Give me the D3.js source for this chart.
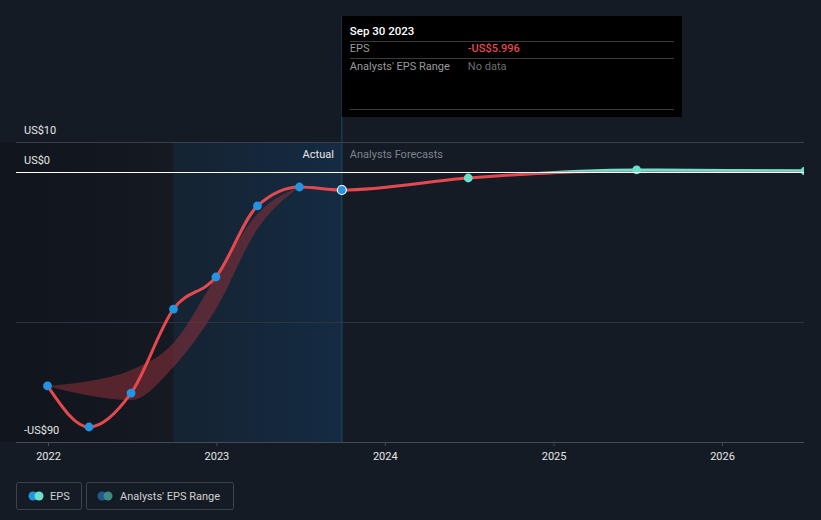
<!DOCTYPE html>
<html>
<head>
<meta charset="utf-8">
<script src="https://cdn.jsdelivr.net/npm/d3@7"></script>
<style>
  html, body { margin: 0; padding: 0; background: #151b25; }
  svg { display: block; font-family: Roboto, "Open Sans", sans-serif; }
</style>
</head>
<body>
<svg id="chart" width="821" height="520"></svg>
<script>
// ---- data ----
const actualDates = ["2021-12-31","2022-03-31","2022-06-30","2022-09-30","2022-12-31","2023-03-31","2023-06-30","2023-09-30"];
const actualEPS   = [-71.3, -85, -73.7, -45.7, -35, -11.3, -5, -5.996];
const forecastDates = ["2024-06-30","2025-06-30","2026-06-30"];
const forecastEPS   = [-2, 0.7, 0.35];
const pastRangeDates = ["2021-12-31","2022-03-31","2022-06-30","2022-09-30","2022-12-31","2023-03-31","2023-06-30"];
const pastRangeHigh  = [-71.3, -69.7, -66, -57, -35, -14, -5];
const pastRangeLow   = [-71.3, -74.5, -76, -65, -45.7, -19, -5];
const fcRangeDates = ["2024-06-30","2025-06-30","2026-06-30"];
const fcRangeHigh  = [-2, 1.0, 0.9];
const fcRangeLow   = [-2, -0.2, -0.3];
const yTickValues = [10, 0, -90];
const yTickLabels = ["US$10", "US$0", "-US$90"];
const xTickYears = [2022, 2023, 2024, 2025, 2026];
const tooltipDate = "Sep 30 2023";
const tooltipEPS = "-US$5.996";
const tooltipRange = "No data";

(function () {
const parse = d3.timeParse("%Y-%m-%d");
const svg = d3.select("#chart");
const W = 821, H = 520;
const pLeft = 16, pRight = 804, pTop = 142, pBottom = 442;

const x = d3.scaleTime()
  .domain([new Date(2022,0,1), new Date(2026,0,1)])
  .range([48, 722]);
const y = d3.scaleLinear().domain([-90, 10]).range([pBottom, pTop]);

const defs = svg.append("defs");
const gDark = defs.append("linearGradient").attr("id","gDark").attr("x1","0").attr("x2","1");
gDark.append("stop").attr("offset","0").attr("stop-color","#10141b").attr("stop-opacity",0.9);
gDark.append("stop").attr("offset","1").attr("stop-color","#141922").attr("stop-opacity",0.9);
const gBlue = defs.append("linearGradient").attr("id","gBlue").attr("x1","0").attr("x2","1");
gBlue.append("stop").attr("offset","0").attr("stop-color","#152332");
gBlue.append("stop").attr("offset","1").attr("stop-color","#142b42");

const y0 = y(0);
const gLine = defs.append("linearGradient").attr("id","gLine")
  .attr("gradientUnits","userSpaceOnUse").attr("x1",0).attr("x2",0).attr("y1",pTop).attr("y2",pBottom);
const zf = (y0 - pTop) / (pBottom - pTop);
gLine.append("stop").attr("offset",0).attr("stop-color","#6ce0cb");
gLine.append("stop").attr("offset",zf - 0.005).attr("stop-color","#6ce0cb");
gLine.append("stop").attr("offset",zf + 0.005).attr("stop-color","#e5484d");
gLine.append("stop").attr("offset",1).attr("stop-color","#e5484d");

defs.append("clipPath").attr("id","clip").append("rect")
  .attr("x", 0).attr("y", 0).attr("width", pRight).attr("height", H);

// background regions
const splitActual = x(parse("2022-09-30"));
const nowX = x(parse("2023-09-30"));
svg.append("rect").attr("x",0).attr("y",pTop).attr("width",splitActual).attr("height",pBottom-pTop).attr("fill","url(#gDark)");
svg.append("rect").attr("x",splitActual).attr("y",pTop).attr("width",nowX-splitActual).attr("height",pBottom-pTop).attr("fill","url(#gBlue)");

// gridlines
svg.append("line").attr("x1",pLeft).attr("x2",pRight).attr("y1",y(10)+0.5).attr("y2",y(10)+0.5).attr("stroke","#3a4049").attr("stroke-width",1);
svg.append("line").attr("x1",pLeft).attr("x2",pRight).attr("y1",y(-50)+0.5).attr("y2",y(-50)+0.5).attr("stroke","#2e343d").attr("stroke-width",1);

// y labels
svg.append("g").selectAll("text").data(yTickValues).join("text")
  .attr("x", 24).attr("y", d => y(d) - 8)
  .attr("fill", "#e6e6e6").attr("font-size", 11)
  .text((d,i) => yTickLabels[i]);

// x axis
const xAxis = d3.axisBottom(x)
  .tickValues(xTickYears.map(yr => new Date(yr,0,1)))
  .tickFormat(d3.timeFormat("%Y"))
  .tickSize(4).tickPadding(6);
const gx = svg.append("g").attr("transform", `translate(0,${pBottom})`).call(xAxis);
gx.select(".domain").remove();
gx.selectAll(".tick line").attr("stroke","#444b55");
gx.selectAll(".tick text").attr("fill","#e6e6e6").attr("font-size",11).attr("font-family","Roboto, sans-serif");
svg.append("line").attr("x1",pLeft).attr("x2",pRight).attr("y1",pBottom+0.5).attr("y2",pBottom+0.5).attr("stroke","#444b55");

// now line
svg.append("line").attr("x1",nowX).attr("x2",nowX).attr("y1",16).attr("y2",pBottom)
  .attr("stroke","#1d4864").attr("stroke-width",1);

// labels Actual / Forecasts
svg.append("text").attr("x", nowX - 8).attr("y", 158).attr("text-anchor","end")
  .attr("fill","#e8e8e8").attr("font-size",11).text("Actual");
svg.append("text").attr("x", nowX + 8).attr("y", 158)
  .attr("fill","#7d838b").attr("font-size",11).text("Analysts Forecasts");

// range bands
const plot = svg.append("g").attr("clip-path","url(#clip)");
const pastBand = pastRangeDates.map((d,i) => ({d: parse(d), hi: pastRangeHigh[i], lo: pastRangeLow[i]}));
const area = d3.area().x(d => x(d.d)).y0(d => y(d.lo)).y1(d => y(d.hi)).curve(d3.curveMonotoneX);
plot.append("path").datum(pastBand).attr("d", area).attr("fill","#8c2f38").attr("fill-opacity",0.55);
const fcBand = fcRangeDates.map((d,i) => ({d: parse(d), hi: fcRangeHigh[i], lo: fcRangeLow[i]}));
plot.append("path").datum(fcBand).attr("d", area).attr("fill","url(#gLine)").attr("fill-opacity",0.75);

// zero line
svg.append("line").attr("x1",pLeft).attr("x2",pRight).attr("y1",y0+0.5).attr("y2",y0+0.5).attr("stroke","#ffffff").attr("stroke-width",1);

// EPS line
const allPts = actualDates.map((d,i) => ({d: parse(d), v: actualEPS[i], f: false}))
  .concat(forecastDates.map((d,i) => ({d: parse(d), v: forecastEPS[i], f: true})));
const line = d3.line().x(d => x(d.d)).y(d => y(d.v)).curve(d3.curveMonotoneX);
plot.append("path").datum(allPts).attr("d", line).attr("fill","none")
  .attr("stroke","url(#gLine)").attr("stroke-width",3);

// points
plot.selectAll("circle.pt").data(allPts).join("circle").attr("class","pt")
  .attr("cx", d => x(d.d)).attr("cy", d => y(d.v))
  .attr("r", (d,i) => i === actualDates.length - 1 ? 4.5 : 4.4)
  .attr("fill", d => d.f ? "#6ce0cb" : "#2394df")
  .attr("stroke", (d,i) => i === actualDates.length - 1 ? "#ffffff" : "none")
  .attr("stroke-width", 1.2);

// tooltip
const tt = svg.append("g").attr("transform", `translate(${nowX},16)`);
tt.append("rect").attr("width", 340).attr("height", 101).attr("fill", "#000000");
tt.append("text").attr("x",8).attr("y",19).attr("fill","#ffffff").attr("font-size",11.5).attr("font-weight",500).text(tooltipDate);
[25, 42, 93].forEach(yy => tt.append("line").attr("x1",8).attr("x2",332).attr("y1",yy+0.5).attr("y2",yy+0.5).attr("stroke","#3b3b3b"));
tt.append("text").attr("x",8).attr("y",36).attr("fill","#9a9a9a").attr("font-size",11).text("EPS");
tt.append("text").attr("x",126).attr("y",36).attr("fill","#e5484d").attr("font-size",11).attr("font-weight",500).text(tooltipEPS);
tt.append("text").attr("x",8).attr("y",54).attr("fill","#9a9a9a").attr("font-size",11).text("Analysts' EPS Range");
tt.append("text").attr("x",126).attr("y",54).attr("fill","#6e6e6e").attr("font-size",11).text(tooltipRange);

// legend
const lg = svg.append("g");
lg.append("rect").attr("x",16.5).attr("y",482.5).attr("width",65).attr("height",27).attr("rx",2).attr("fill","none").attr("stroke","#3d434c");
lg.append("circle").attr("cx",33).attr("cy",496).attr("r",4.5).attr("fill","#2394df");
lg.append("circle").attr("cx",39).attr("cy",496).attr("r",4.5).attr("fill","#6ce0cb");
lg.append("text").attr("x",50).attr("y",500).attr("fill","#d0d0d0").attr("font-size",11).text("EPS");
lg.append("rect").attr("x",86.5).attr("y",482.5).attr("width",147).attr("height",27).attr("rx",2).attr("fill","none").attr("stroke","#3d434c");
lg.append("circle").attr("cx",102).attr("cy",496).attr("r",4.5).attr("fill","#1f5a8a");
lg.append("circle").attr("cx",108).attr("cy",496).attr("r",4.5).attr("fill","#3e8a80");
lg.append("text").attr("x",120).attr("y",500).attr("fill","#d0d0d0").attr("font-size",11).text("Analysts' EPS Range");
})();
</script>
</body>
</html>
